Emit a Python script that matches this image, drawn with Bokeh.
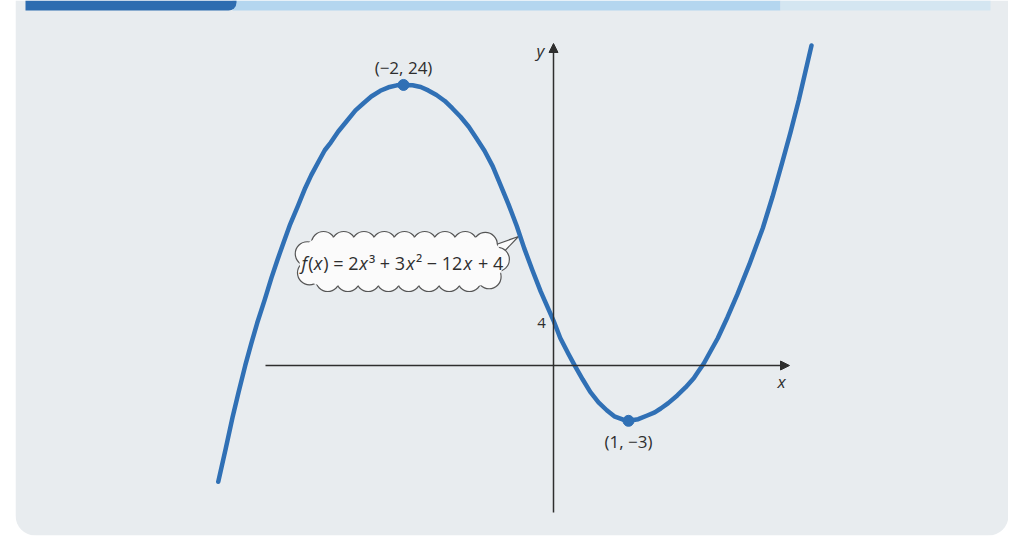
import numpy as np
from bokeh.plotting import figure
from bokeh.models import Arrow, NormalHead, BoxAnnotation, ColumnDataSource
from bokeh.core.properties import value
from bokeh.embed import file_html
from bokeh.resources import INLINE

# ---- data (illustration units) ----
curve_x = [-4.47, -4.37, -4.28, -4.20, -4.11, -4.03, -3.95, -3.85, -3.76, -3.68,
           -3.60, -3.51, -3.41, -3.31, -3.23, -3.13, -3.05, -2.97, -2.87, -2.75,
           -2.64, -2.53, -2.43, -2.31, -2.20, -2.09, -2.00, -1.88, -1.77, -1.67,
           -1.56, -1.45, -1.35, -1.24, -1.13, -1.03, -0.92, -0.81, -0.71, -0.60,
           -0.49, -0.39, -0.28, -0.17, 0.00, 0.09, 0.20, 0.28, 0.39, 0.49,
           0.60, 0.71, 0.81, 0.92, 1.00, 1.13, 1.25, 1.35, 1.43, 1.53,
           1.65, 1.76, 1.87, 1.93, 2.00, 2.09, 2.19, 2.32, 2.45, 2.61,
           2.79, 2.92, 3.05, 3.16, 3.27, 3.36, 3.44]
curve_y = [-7.90, -5.23, -2.73, -0.72, 1.45, 3.20, 4.88, 6.74, 8.51, 9.95,
           11.32, 12.82, 14.23, 15.72, 16.75, 17.87, 18.75, 19.37, 20.26, 21.14,
           21.95, 22.55, 23.07, 23.53, 23.81, 23.97, 24.00, 23.97, 23.83, 23.56,
           23.19, 22.71, 22.13, 21.44, 20.64, 19.73, 18.71, 17.45, 16.00, 14.40,
           12.66, 10.86, 9.09, 7.39, 5.06, 3.66, 2.37, 1.48, 0.32, -0.68,
           -1.51, -2.15, -2.64, -2.89, -3.00, -2.87, -2.57, -2.32, -2.01, -1.58,
           -0.96, -0.32, 0.42, 0.96, 1.57, 2.55, 3.64, 5.33, 7.14, 9.55,
           12.48, 15.01, 17.78, 20.19, 22.77, 25.10, 27.17]
point_x = [-2, 1]
point_y = [24, -3]
point_labels = ["(\u22122, 24)", "(1, \u22123)"]
intercept_label = ["4"]
formula_parts = ["f", "(", "x", ") = 2", "x", "\u00b3 + 3", "x", "\u00b2 \u2212 12", "x", "+ 4"]
formula_italic = [True, False, True, False, True, False, True, False, True, False]

# ---- layout ----
W, H = 1008, 544
ML, MB = 15, 9
PXU, PYU = 75.0, 12.44
X0 = (15 - 553) / PXU
X1 = X0 + (W - ML) / PXU
Y1 = 383 / PYU
Y0 = Y1 - (H - MB) / PYU


def px(xp):  # page pixel -> data x
    return X0 + (xp - 15) / PXU


def py(yp):  # page pixel -> data y
    return Y1 - yp / PYU


BLUE = "#3070b5"
INK = "#2e2e2e"
FONT = "Open Sans"

p = figure(width=W, height=H, x_range=(X0, X1), y_range=(Y0, Y1),
           x_axis_type=None, y_axis_type=None, toolbar_location=None,
           output_backend="svg", min_border_left=ML, min_border_right=0,
           min_border_top=0, min_border_bottom=MB)
p.grid.visible = False
p.outline_line_color = None
p.background_fill_color = "white"
p.border_fill_color = "white"

# panel
p.add_layout(BoxAnnotation(left=X0, right=X1, bottom=Y0, top=Y1,
                           fill_color="#e8ecef", fill_alpha=1.0, line_color=None,
                           border_radius=(0, 0, 20, 20), level="underlay"))
# top strip
p.add_layout(BoxAnnotation(left=px(232), right=px(780), bottom=py(10), top=Y1,
                           fill_color="#b4d6ef", fill_alpha=1.0, line_color=None,
                           level="underlay"))
p.add_layout(BoxAnnotation(left=px(780), right=px(990), bottom=py(10), top=Y1,
                           fill_color="#d4e6f1", fill_alpha=1.0, line_color=None,
                           level="underlay"))
p.add_layout(BoxAnnotation(left=px(25), right=px(236), bottom=py(10), top=Y1,
                           fill_color="#2d6cb0", fill_alpha=1.0, line_color=None,
                           border_radius=(0, 0, 8, 0), level="underlay"))

# axes with arrows
AX_Y = py(365)
p.add_layout(Arrow(end=NormalHead(size=9, fill_color=INK, line_color=INK),
                   x_start=px(265), y_start=AX_Y, x_end=px(789), y_end=AX_Y,
                   line_color=INK, line_width=1.5))
p.add_layout(Arrow(end=NormalHead(size=9, fill_color=INK, line_color=INK),
                   x_start=0, y_start=py(512), x_end=0, y_end=py(43),
                   line_color=INK, line_width=1.5))
p.text(x=[px(781)], y=[py(381)], text=["x"], text_font=value(FONT),
       text_font_style="italic", text_font_size="17px", text_color=INK,
       text_align="center", text_baseline="middle")
p.text(x=[px(540)], y=[py(50)], text=["y"], text_font=value(FONT),
       text_font_style="italic", text_font_size="17px", text_color=INK,
       text_align="center", text_baseline="middle")

# callout tail
p.patch(x=[px(490), px(518), px(497)], y=[py(246), py(236), py(258)],
        fill_color="#fbfbfb", line_color="#555555", line_width=1.2)

# cloud bubble
cxp, cyp = 401, 261
L, R, r = 78, 18, 12
P = 4 * L + 2 * np.pi * R
n = int(round(P / 20))
bx, by = [], []
for k in range(n):
    s = k * P / n
    if s < 2 * L:
        dx, dy = -L + s, R
    elif s < 2 * L + np.pi * R:
        a = np.pi / 2 - (s - 2 * L) / R
        dx, dy = L + R * np.cos(a), R * np.sin(a)
    elif s < 4 * L + np.pi * R:
        dx, dy = L - (s - 2 * L - np.pi * R), -R
    else:
        a = -np.pi / 2 - (s - 4 * L - np.pi * R) / R
        dx, dy = -L + R * np.cos(a), R * np.sin(a)
    bx.append(px(cxp + dx))
    by.append(py(cyp - dy))
p.circle(x=bx, y=by, radius=r, radius_units="screen", fill_color="#fbfbfb",
         line_color="#555555", line_width=1.2)
p.rect(x=[px(cxp)], y=[py(cyp)], width=2 * L, height=2 * (R + 6),
       width_units="screen", height_units="screen", fill_color="#fbfbfb",
       line_color=None)
p.circle(x=[px(cxp - L), px(cxp + L)], y=[py(cyp), py(cyp)], radius=R + 6,
         radius_units="screen", fill_color="#fbfbfb", line_color=None)

# formula text in pieces (SVG drops leading spaces, so gaps are in widths)
widths = {"f": 6.8, "(": 5.4, "x": 9.6, ") = 2": 36.0, "\u00b3 + 3": 37.4,
          "\u00b2 \u2212 12": 47.6, "+ 4": 26.0}
gap_before = {"+ 4": 5.0}
off = 0.0
for part, it in zip(formula_parts, formula_italic):
    off += gap_before.get(part, 0.0)
    p.text(x=[px(301)], y=[py(262)], text=[part], x_offset=off,
           text_font=value(FONT), text_font_style="italic" if it else "normal",
           text_font_size="18px", text_color=INK, text_align="left",
           text_baseline="middle")
    off += widths[part]

# curve
p.line(curve_x, curve_y, line_width=4.5, color=BLUE, line_join="round",
       line_cap="round")

# extreme points and labels
src = ColumnDataSource(dict(x=point_x, y=point_y, t=point_labels, yo=[-17, 21]))
p.scatter("x", "y", source=src, size=11, color=BLUE)
p.text(x="x", y="y", text="t", y_offset="yo", source=src, text_font=value(FONT),
       text_font_size="17px", text_color=INK, text_align="center",
       text_baseline="middle")

# y-intercept label
i0 = curve_x.index(0.00)
p.text(x=[0], y=[curve_y[i0]], text=intercept_label, x_offset=-12, y_offset=2,
       text_font=value(FONT), text_font_size="15px", text_color=INK,
       text_align="center", text_baseline="middle")

open("out.html", "w").write(file_html(p, INLINE))
